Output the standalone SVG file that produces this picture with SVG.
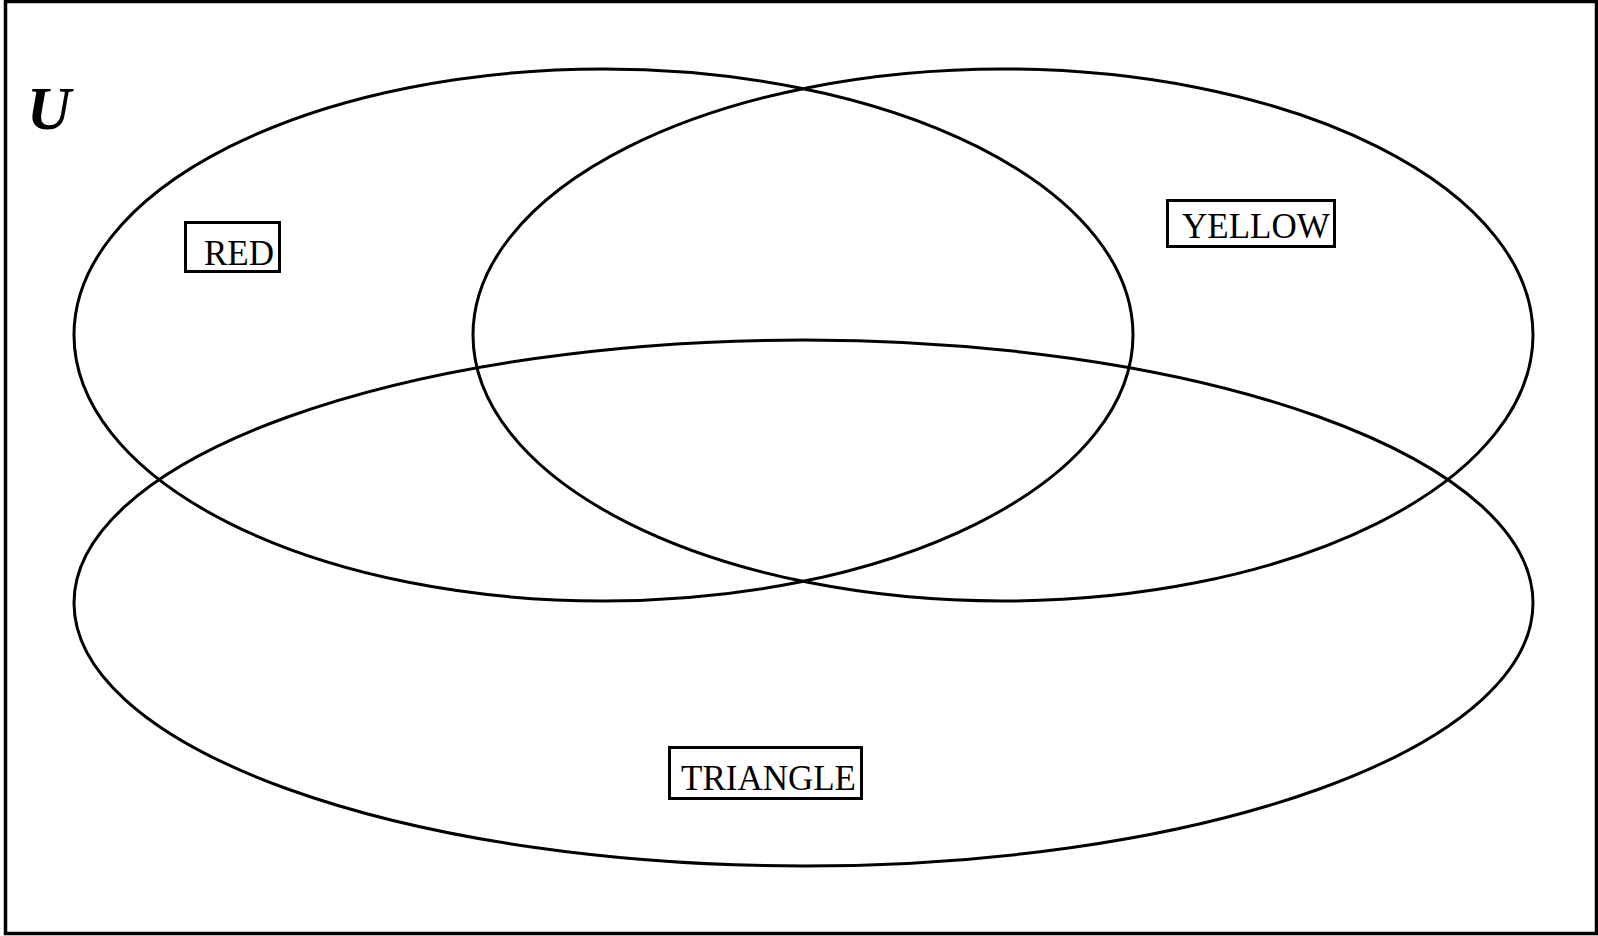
<svg xmlns="http://www.w3.org/2000/svg" width="1598" height="936" viewBox="0 0 1598 936">
<style>
.set{fill:none;stroke:#000;stroke-width:3}
.box{fill:none;stroke:#000;stroke-width:3}
.lbl{font-family:"Liberation Serif","Times New Roman",serif;font-size:35px;fill:#000}
</style>
<rect x="0" y="0" width="1598" height="936" fill="#fff"/>
<rect x="5.5" y="1.5" width="1591" height="932" fill="none" stroke="#000" stroke-width="3.5"/>
<text x="27" y="129" font-family="Liberation Serif,Times New Roman,serif" font-size="61" font-weight="bold" font-style="italic">U</text>
<g id="sets">
<g id="red"><ellipse class="set" cx="603.5" cy="335" rx="529.5" ry="266"/></g>
<g id="yellow"><ellipse class="set" cx="1003" cy="335" rx="530" ry="266"/></g>
<g id="triangle"><ellipse class="set" cx="803.5" cy="603" rx="729.5" ry="263"/></g>
</g>
<g id="label-red"><rect class="box" x="185.5" y="222.5" width="94" height="49"/><text class="lbl" x="204" y="265" font-size="36">RED</text></g>
<g id="label-yellow"><rect class="box" x="1167.5" y="200.5" width="167" height="46"/><text class="lbl" x="1182" y="238">YELLOW</text></g>
<g id="label-triangle"><rect class="box" x="669.5" y="747.5" width="192" height="51"/><text class="lbl" x="681" y="790" font-size="36">TRIANGLE</text></g>
</svg>
